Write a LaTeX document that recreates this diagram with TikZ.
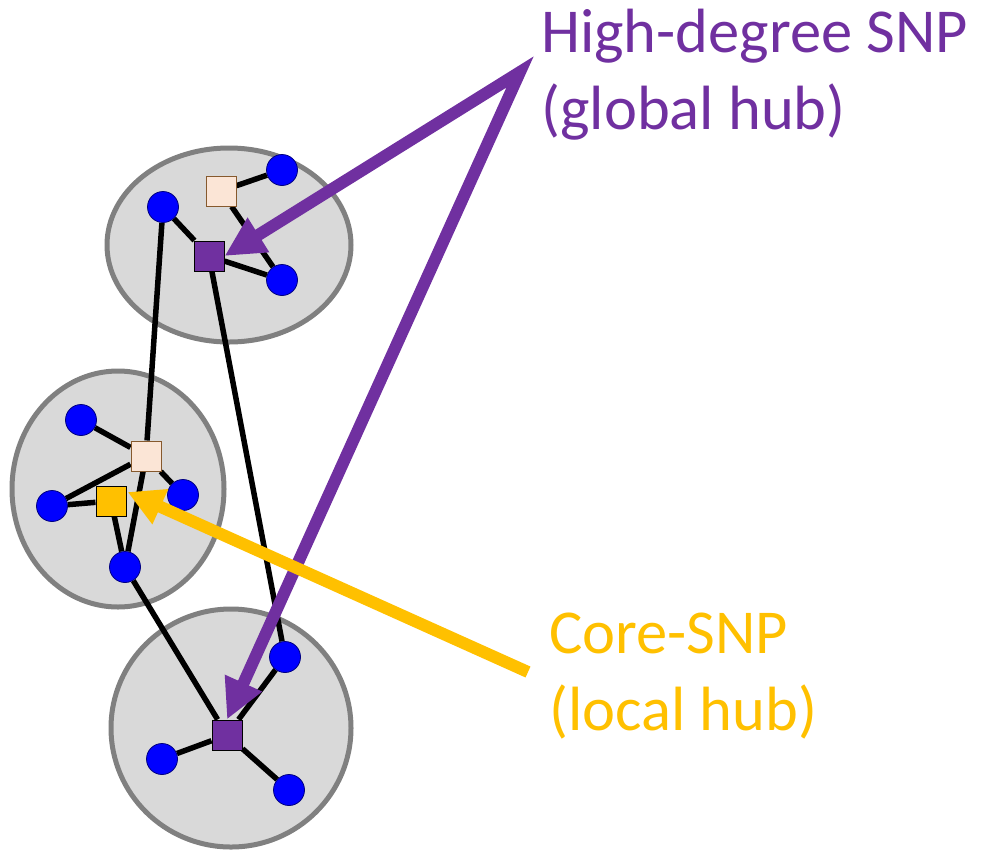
\documentclass[tikz,border=0pt]{standalone}
\usepackage{fontspec}
\setmainfont{Carlito}
\usepackage{tikz}
\usetikzlibrary{arrows.meta,positioning,calc,backgrounds}

\definecolor{hubpurple}{HTML}{7030A0}
\definecolor{hubgold}{HTML}{FFC000}
\definecolor{snpblue}{HTML}{0000FF}
\definecolor{peach}{HTML}{FBE5D6}
\definecolor{cluster}{HTML}{D9D9D9}
\definecolor{rim}{HTML}{808080}

\tikzset{
 snp/.style={circle,fill=snpblue,draw=blue!50!black,line width=0.8pt,minimum size=31pt,inner sep=0pt},
 sq/.style={rectangle,draw=black,line width=1pt,minimum size=30pt,inner sep=0pt},
 link/.style={line width=5.5pt,black},
 pointer/.style={line width=12pt,line join=miter},
 tag/.style={anchor=base west,inner sep=0pt,align=left,font=\fontsize{62.5}{77}\selectfont},
}

\begin{document}
\begin{tikzpicture}[x=1pt,y=-1pt]
\useasboundingbox (0,0) rectangle (981,852);
% top cluster
\node[snp] (a1) at (282,170) {};
\node[sq,fill=peach,draw=brown!70!black] (p1) at (221,191) {};
\node[snp] (a2) at (163,207) {};
\node[sq,fill=hubpurple] (g1) at (209,256) {};
\node[snp] (a3) at (282,280) {};
% middle cluster
\node[snp] (b1) at (81,420) {};
\node[sq,fill=peach,draw=brown!70!black] (p2) at (146,456) {};
\node[snp] (b2) at (52,506) {};
\node[sq,fill=hubgold] (c1) at (111,501) {};
\node[snp] (b3) at (183,495) {};
\node[snp] (b4) at (125,567) {};
% bottom cluster
\node[snp] (d1) at (285,657) {};
\node[sq,fill=hubpurple] (g2) at (227,735) {};
\node[snp] (d2) at (162,759) {};
\node[snp] (d3) at (289,790) {};
% clusters and links go underneath
\begin{scope}[on background layer]
\foreach \cx/\cy/\rx/\ry in {229/245/122/97, 118/489/106/118, 231/728/120/119} {
 \draw[line width=5pt,draw=rim,fill=cluster] (\cx,\cy) ellipse [x radius=\rx,y radius=\ry];
}
\draw[link] (p1) -- (a1) (p1) -- (a3) (a2) -- (g1) -- (a3);
\draw[link] (a2) -- (p2) (g1) -- (d1);
\draw[link] (b1) -- (p2) -- (b2) -- (c1) -- (b4) -- (p2) -- (b3);
\draw[link] (b4) -- (g2);
\draw[link] (g2) -- (d1) (g2) -- (d2) (g2) -- (d3);
\end{scope}
% labels (base = last line)
\node[tag,text=hubpurple] (hub) at (541,129) {High-degree SNP\\(global hub)};
\node[tag,text=hubgold] (core) at (549,730) {Core-SNP\\(local hub)};
% pointers
\coordinate (apex) at (520,72);
\coordinate (tail) at (528,672);
\draw[pointer,draw=hubpurple,{Triangle[length=40pt,width=38pt]}-{Triangle[length=40pt,width=38pt]}] (g1.east) -- (apex) -- (g2.north);
\draw[pointer,draw=hubgold,-{Triangle[length=36pt,width=36pt]}] (tail) -- ($(c1.east)+(1,-9)$);
\end{tikzpicture}
\end{document}
